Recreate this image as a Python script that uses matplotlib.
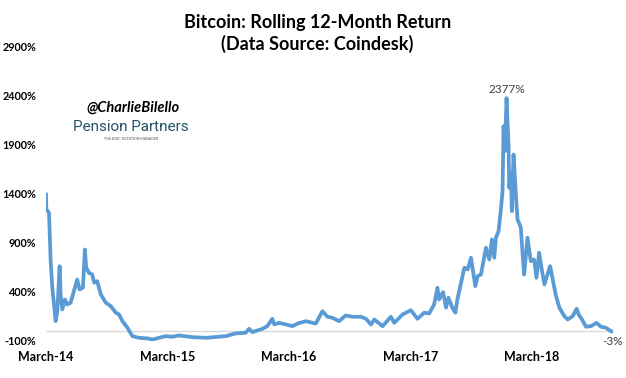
import numpy as np
import pandas as pd
import matplotlib
matplotlib.use("Agg")
import matplotlib.pyplot as plt
from matplotlib.ticker import FixedLocator

# ---------------------------------------------------------------------------
# Data
# ---------------------------------------------------------------------------

START = pd.Timestamp("2014-03-01")

# days after START
day_offsets = [
    0, 1, 9, 14, 19, 29, 34, 41, 44, 49, 57, 64, 74, 84, 94, 101, 111, 117,
    121, 129, 139, 145, 154, 165, 180, 195, 210, 220, 230, 245, 260, 280,
    305, 320, 360, 380, 400, 440, 481, 541, 571, 601, 611, 621, 651, 666,
    681, 687, 702, 722, 742, 757, 782, 802, 812, 832, 847, 862, 882, 902,
    922, 948, 963, 978, 988, 1013, 1038, 1048, 1073, 1098, 1118, 1138,
    1153, 1168, 1178, 1183, 1195, 1204, 1211, 1223, 1232, 1238, 1259, 1269,
    1279, 1292, 1299, 1309, 1324, 1334, 1342, 1349, 1354, 1362, 1369, 1374,
    1377, 1381, 1386, 1392, 1394, 1399, 1402, 1407, 1411, 1414, 1419, 1424,
    1429, 1434, 1439, 1449, 1459, 1469, 1476, 1484, 1492, 1500, 1517, 1525,
    1535, 1545, 1560, 1570, 1585, 1597, 1603, 1613, 1625, 1640, 1657, 1670,
    1685, 1700, 1705,
]

# rolling 12-month return, %
returns = [
    1394, 1241, 1208, 714, 443, 102, 204, 663, 374, 221, 323, 272, 290, 408,
    527, 425, 443, 833, 647, 596, 578, 494, 510, 374, 290, 255, 188, 170, 102,
    35, -51, -68, -74, -85, -51, -57, -44, -61, -68, -51, -23, -16, 24, -10,
    24, 51, 126, 68, 85, 68, 51, 78, 102, 85, 78, 204, 147, 136, 102, 160, 147,
    147, 126, 68, 119, 51, 147, 85, 170, 214, 126, 188, 180, 272, 443, 323,
    398, 239, 341, 239, 188, 323, 647, 629, 749, 459, 561, 578, 851, 731, 935,
    749, 953, 1020, 1241, 1428, 2091, 1836, 2377, 1904, 1463, 1616, 1224,
    1802, 1581, 1394, 1139, 1100, 1055, 800, 578, 953, 714, 731, 545, 800,
    629, 476, 663, 527, 357, 239, 153, 119, 153, 228, 170, 119, 45, 51, 85,
    45, 35, 0, -3,
]

y_ticks = [-100, 400, 900, 1400, 1900, 2400, 2900]
x_tick_years = [2014, 2015, 2016, 2017, 2018]

dates = START + pd.to_timedelta(day_offsets, unit="D")

# ---------------------------------------------------------------------------
# Plot
# ---------------------------------------------------------------------------

plt.rcParams["font.family"] = ["Lato", "DejaVu Sans"]

fig = plt.figure(figsize=(6.26, 3.78), dpi=100)
ax = fig.add_axes([0.0735, 0.098, 0.905, 0.778])

ax.plot(dates, returns, color="#5B9BD5", lw=2.7, solid_joinstyle="round")
ax.axhline(0, color="#D9D9D9", lw=1, zorder=0)

ax.set_xlim(dates[0], dates[-1])
ax.set_ylim(-100, 2900)

for s in ax.spines.values():
    s.set_visible(False)

ax.yaxis.set_major_locator(FixedLocator(y_ticks))
ax.set_yticklabels([f"{t}%" for t in y_ticks], fontsize=7.8, fontweight="bold")
ax.tick_params(axis="y", length=0, pad=7)

tick_dates = [pd.Timestamp(f"{y}-03-01") for y in x_tick_years]
ax.set_xticks(tick_dates)
ax.set_xticklabels([d.strftime("March-%y") for d in tick_dates],
                   fontsize=9, fontweight="bold")
ax.tick_params(axis="x", length=0, pad=7)

# peak / last value labels
i_peak = int(np.argmax(returns))
ax.annotate(f"{returns[i_peak]}%", (dates[i_peak], returns[i_peak]),
            xytext=(0, 2), textcoords="offset points", ha="center",
            va="bottom", fontsize=8.5, color="#404040")
ax.annotate(f"{returns[-1]}%", (dates[-1], returns[-1]),
            xytext=(0, -3), textcoords="offset points", ha="center",
            va="top", fontsize=8.5, color="#404040")

fig.text(0.507, 0.911, "Bitcoin: Rolling 12-Month Return\n(Data Source: Coindesk)",
         ha="center", va="center", fontsize=13, fontweight="bold",
         linespacing=1.3)

# watermark
fig.text(0.213, 0.714, "@CharlieBilello", ha="center", va="center",
         fontsize=10.5, fontstyle="italic", fontweight="bold", color="black")
fig.text(0.209, 0.663, "Pension Partners", ha="center", va="center",
         fontsize=11, color="#24536A", family=["Roboto", "DejaVu Sans"])
fig.text(0.209, 0.632, "THE ATAC ROTATION MANAGER", ha="center", va="center",
         fontsize=2.5, color="#555555")

plt.savefig("out.png", dpi=100)
